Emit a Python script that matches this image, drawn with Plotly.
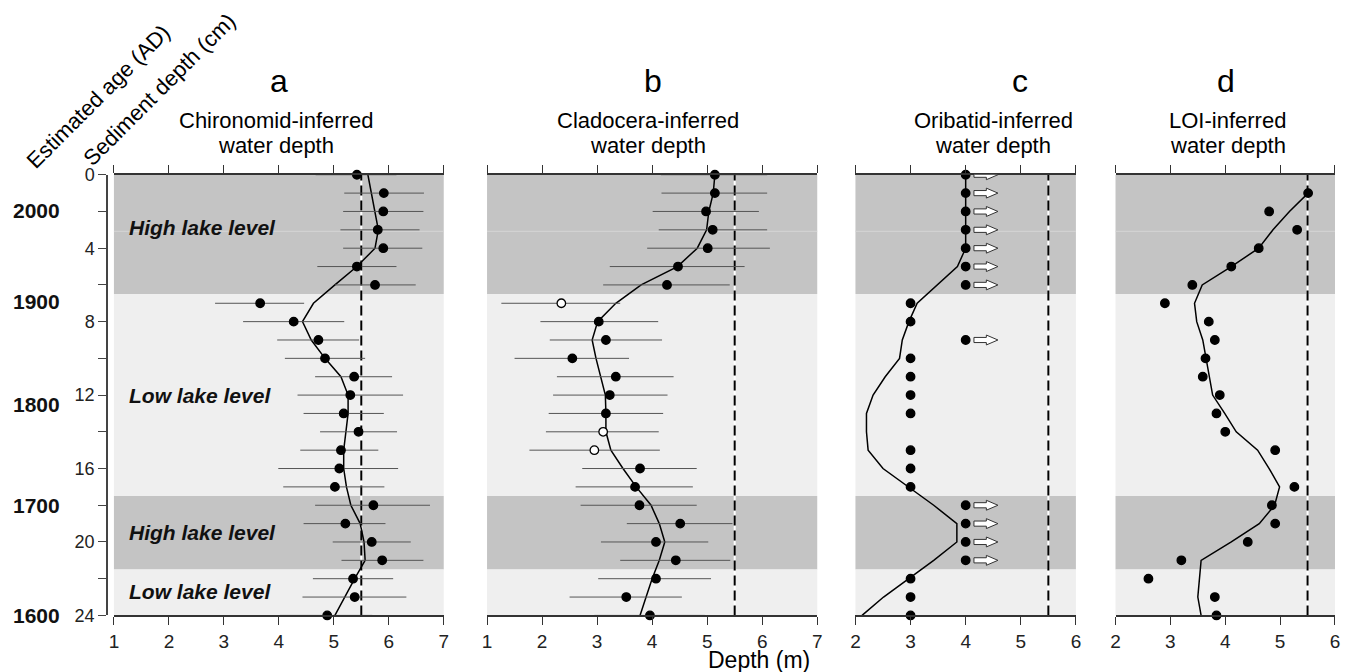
import plotly.graph_objects as go

# ---------------- data ----------------
depths = list(range(25))  # sediment depth (cm)

chir_val = [5.42, 5.91, 5.90, 5.80, 5.90, 5.42, 5.75, 3.66, 4.27, 4.72, 4.84, 5.37, 5.30,
            5.18, 5.45, 5.13, 5.10, 5.02, 5.72, 5.21, 5.69, 5.88, 5.35, 5.38, 4.88]
chir_lo = [4.67, 5.19, 5.17, 5.12, 5.17, 4.70, 5.02, 2.84, 3.35, 3.97, 4.11, 4.66, 4.34,
           4.45, 4.75, 4.39, 3.99, 4.08, 4.66, 4.45, 4.98, 5.14, 4.62, 4.43, 4.02]
chir_hi = [6.14, 6.64, 6.63, 6.56, 6.61, 6.14, 6.49, 4.46, 5.19, 5.46, 5.57, 6.06, 6.26,
           5.91, 6.15, 5.81, 6.17, 5.92, 6.75, 5.94, 6.40, 6.63, 6.08, 6.32, 5.70]
chir_smooth = [5.62, 5.68, 5.75, 5.81, 5.75, 5.42, 5.02, 4.63, 4.43, 4.59, 4.84, 5.13, 5.26,
               5.26, 5.22, 5.18, 5.18, 5.23, 5.31, 5.48, 5.55, 5.57, 5.38, 5.20, 5.02]

clad_val = [5.14, 5.14, 4.98, 5.10, 5.01, 4.47, 4.27, 2.35, 3.03, 3.16, 2.55, 3.34, 3.23,
            3.16, 3.11, 2.95, 3.78, 3.69, 3.77, 4.51, 4.07, 4.43, 4.07, 3.53, 3.96]
clad_lo = [4.16, 4.17, 4.01, 4.12, 3.91, 3.23, 3.11, 1.26, 1.97, 2.14, 1.50, 2.27, 2.20,
           2.12, 2.07, 1.77, 2.73, 2.61, 2.70, 3.54, 3.07, 3.42, 3.02, 2.50, 2.95]
clad_hi = [6.09, 6.09, 5.94, 6.09, 6.14, 5.68, 5.41, 3.42, 4.11, 4.18, 3.58, 4.39, 4.28,
           4.20, 4.12, 4.14, 4.81, 4.74, 4.81, 5.46, 5.02, 5.42, 5.07, 4.54, 4.96]
clad_open = [0, 0, 0, 0, 0, 0, 0, 1, 0, 0, 0, 0, 0, 0, 1, 1, 0, 0, 0, 0, 0, 0, 0, 0, 0]
clad_smooth = [5.14, 5.11, 5.03, 4.99, 4.82, 4.46, 3.80, 3.34, 3.01, 2.91, 2.98, 3.07, 3.15,
               3.16, 3.16, 3.25, 3.47, 3.71, 3.98, 4.13, 4.23, 4.13, 4.00, 3.89, 3.78]

orib_val = [4, 4, 4, 4, 4, 4, 4, 3, 3, 4, 3, 3, 3, 3, None, 3, 3, 3, 4, 4, 4, 4, 3, 3, 3]
orib_gt = [1, 1, 1, 1, 1, 1, 1, 0, 0, 1, 0, 0, 0, 0, 0, 0, 0, 0, 1, 1, 1, 1, 0, 0, 0]
orib_smooth = [4.0, 4.0, 4.0, 4.0, 4.0, 3.85, 3.48, 3.12, 2.97, 2.85, 2.80, 2.54, 2.32,
               2.20, 2.20, 2.23, 2.50, 2.97, 3.42, 3.84, 3.84, 3.42, 2.97, 2.51, 2.12]

loi_val = [None, 5.51, 4.80, 5.31, 4.61, 4.11, 3.40, 2.90, 3.70, 3.81, 3.64, 3.59, 3.90,
           3.84, 4.00, 4.91, None, 5.26, 4.85, 4.91, 4.41, 3.20, 2.60, 3.81, 3.84]
loi_smooth = [None, 5.51, 5.17, 4.87, 4.61, 4.11, 3.58, 3.44, 3.48, 3.59, 3.65, 3.70, 3.77,
              3.99, 4.20, 4.59, 4.80, 4.99, 4.90, 4.62, 4.11, 3.56, 3.53, 3.50, 3.56]

reference_depth = 5.5  # dashed line (m)

band_top = [0, 6.5, 17.5, 21.5]
band_bottom = [6.5, 17.5, 21.5, 24]
band_level = ["High lake level", "Low lake level", "High lake level", "Low lake level"]
band_label_depth = [2.9, 12.0, 19.5, 22.7]

age_labels = ["2000", "1900", "1800", "1700", "1600"]
age_depths = [1.95, 6.9, 12.5, 18.0, 24.0]

depth_tickvals = list(range(0, 25, 2))
depth_ticktext = [str(v) if v % 4 == 0 else "" for v in depth_tickvals]

panel_letters = ["a", "b", "c", "d"]
panel_title1 = ["Chironomid-inferred", "Cladocera-inferred", "Oribatid-inferred", "LOI-inferred"]
panel_title2 = ["water depth", "water depth", "water depth", "water depth"]

# ---------------- layout geometry ----------------
W, H = 1352, 672
# calibration of the page capture (figure pixel -> screenshot pixel)
OX, SX = 2.5, 0.995
OY, SY = 8.5, 0.9747


def px(X):
    return ((X - OX) / SX) / W


def py(Y):
    return 1 - ((Y - OY) / SY) / H


FONT = "Liberation Sans, Arial, sans-serif"
px_dom = [(111.7, 442.3), (485.7, 816.7), (855.0, 1076.0), (1115.7, 1335.7)]
x_ranges = [[1, 7], [1, 7], [2, 6], [2, 6]]
y_dom = [py(616.7), py(174.0)]
letter_x = [277, 652, 1020, 1226]
title_x = [274, 647, 993, 1228]

DARK = "#c4c4c4"
LIGHT = "#efefef"
AX = "#333333"

fig = go.Figure()

series = [
    (chir_val, chir_lo, chir_hi, chir_smooth, None),
    (clad_val, clad_lo, clad_hi, clad_smooth, clad_open),
    (orib_val, None, None, orib_smooth, None),
    (loi_val, None, None, loi_smooth, None),
]

for i, (vals, lo, hi, smooth, opn) in enumerate(series):
    xa = "x" if i == 0 else f"x{i+1}"
    ya = "y" if i == 0 else f"y{i+1}"
    fig.add_trace(go.Scatter(x=smooth, y=depths, mode="lines", xaxis=xa, yaxis=ya,
                             line=dict(color="black", width=1.5), showlegend=False,
                             hoverinfo="skip", cliponaxis=False))
    err = None
    if lo is not None:
        err = dict(type="data", symmetric=False,
                   array=[h - v for h, v in zip(hi, vals)],
                   arrayminus=[v - l for v, l in zip(vals, lo)],
                   width=0, thickness=1, color="#555555")
    if opn is not None:
        fills = ["white" if o else "black" for o in opn]
    else:
        fills = "black"
    fig.add_trace(go.Scatter(x=vals, y=depths, mode="markers", xaxis=xa, yaxis=ya,
                             error_x=err,
                             marker=dict(size=8.5, color=fills, line=dict(color="black", width=1.3)),
                             showlegend=False, cliponaxis=False))

shapes = []
annotations = []
for i in range(4):
    xr = "x" if i == 0 else f"x{i+1}"
    yr = "y" if i == 0 else f"y{i+1}"
    for t, b, lvl in zip(band_top, band_bottom, band_level):
        shapes.append(dict(type="rect", xref=f"{xr} domain", yref=yr, x0=0, x1=1, y0=t, y1=b,
                           fillcolor=DARK if lvl.startswith("High") else LIGHT,
                           line=dict(width=0), layer="below"))
    # faint scan line in the original
    shapes.append(dict(type="line", xref=f"{xr} domain", yref=yr, x0=0, x1=1, y0=3.08, y1=3.08,
                       line=dict(color="#d6d6d6", width=1), layer="below"))
    # dashed reference line (white under black dashes)
    shapes.append(dict(type="line", xref=xr, yref=f"{yr} domain", x0=reference_depth,
                       x1=reference_depth, y0=0, y1=1, line=dict(color="white", width=2),
                       layer="below"))
    shapes.append(dict(type="line", xref=xr, yref=f"{yr} domain", x0=reference_depth,
                       x1=reference_depth, y0=0, y1=1,
                       line=dict(color="black", width=2, dash="10px,5px"), layer="below"))
    annotations.append(dict(text=panel_letters[i], xref="paper", yref="paper",
                            x=px(letter_x[i]), y=py(80), showarrow=False,
                            xanchor="center", yanchor="middle",
                            font=dict(family=FONT, size=32, color="black")))
    annotations.append(dict(text=panel_title1[i], xref="paper", yref="paper",
                            x=px(title_x[i]), y=py(120), showarrow=False,
                            xanchor="center", yanchor="middle",
                            font=dict(family=FONT, size=22, color="black")))
    annotations.append(dict(text=panel_title2[i], xref="paper", yref="paper",
                            x=px(title_x[i]), y=py(145), showarrow=False,
                            xanchor="center", yanchor="middle",
                            font=dict(family=FONT, size=22, color="black")))

# open arrows for "greater than" oribatid values
for d, v, g in zip(depths, orib_val, orib_gt):
    if g and v is not None:
        x0, x1, x2 = v + 0.15, v + 0.375, v + 0.585
        sh, hh = 0.14, 0.27
        path = (f"M {x0},{d-sh} L {x1},{d-sh} L {x1},{d-hh} L {x2},{d} "
                f"L {x1},{d+hh} L {x1},{d+sh} L {x0},{d+sh} Z")
        shapes.append(dict(type="path", xref="x3", yref="y3", path=path,
                           fillcolor="white", line=dict(color="#333333", width=1), layer="above"))

# lake-level labels in panel a
for lvl, dep in zip(band_level, band_label_depth):
    annotations.append(dict(text=f"<b><i>{lvl}</i></b>", xref="paper", yref="y",
                            x=px(125), y=dep, showarrow=False, xanchor="left", yanchor="middle",
                            font=dict(family=FONT, size=21, color="#111111")))

# age labels
for lab, dep in zip(age_labels, age_depths):
    annotations.append(dict(text=f"<b>{lab}</b>", xref="paper", yref="y", x=px(60), y=dep,
                            showarrow=False, xanchor="right", yanchor="middle",
                            font=dict(family=FONT, size=21, color="#111111")))

# rotated column headers
annotations.append(dict(text="Estimated age (AD)", xref="paper", yref="paper",
                        x=px(96), y=py(95), textangle=-45, showarrow=False,
                        xanchor="center", yanchor="middle",
                        font=dict(family=FONT, size=22, color="black")))
annotations.append(dict(text="Sediment depth (cm)", xref="paper", yref="paper",
                        x=px(157), y=py(88), textangle=-45, showarrow=False,
                        xanchor="center", yanchor="middle",
                        font=dict(family=FONT, size=22, color="black")))

annotations.append(dict(text="Depth (m)", xref="paper", yref="paper", x=px(758), y=py(661),
                        showarrow=False, xanchor="center", yanchor="middle",
                        font=dict(family=FONT, size=23, color="black")))

layout = dict(width=W, height=H, margin=dict(l=0, r=0, t=0, b=0),
              paper_bgcolor="white", plot_bgcolor="white", showlegend=False,
              shapes=shapes, annotations=annotations)

for i in range(4):
    xk = "xaxis" if i == 0 else f"xaxis{i+1}"
    yk = "yaxis" if i == 0 else f"yaxis{i+1}"
    ya = "y" if i == 0 else f"y{i+1}"
    xa = "x" if i == 0 else f"x{i+1}"
    layout[xk] = dict(domain=[px(px_dom[i][0]), px(px_dom[i][1])], range=x_ranges[i],
                      anchor=ya, dtick=1, tick0=0, showgrid=False, zeroline=False,
                      showline=True, linecolor=AX, linewidth=1.5, mirror="ticks",
                      ticks="outside", ticklen=8, tickcolor=AX, tickwidth=1.3,
                      tickfont=dict(family=FONT, size=19, color="#222222"))
    if i == 0:
        layout[yk] = dict(domain=y_dom, range=[24, 0], anchor="free", position=px(105),
                          showgrid=False, zeroline=False, showline=True, linecolor="#444444",
                          linewidth=2, ticks="outside", ticklen=8, tickcolor="#444444",
                          tickwidth=1.3, tickvals=depth_tickvals, ticktext=depth_ticktext,
                          tickfont=dict(family=FONT, size=18, color="#222222"))
    else:
        layout[yk] = dict(domain=y_dom, range=[24, 0], anchor=xa, showgrid=False,
                          zeroline=False, showline=False, showticklabels=False, ticks="")

fig.update_layout(**layout)
fig.write_html("out.html")
